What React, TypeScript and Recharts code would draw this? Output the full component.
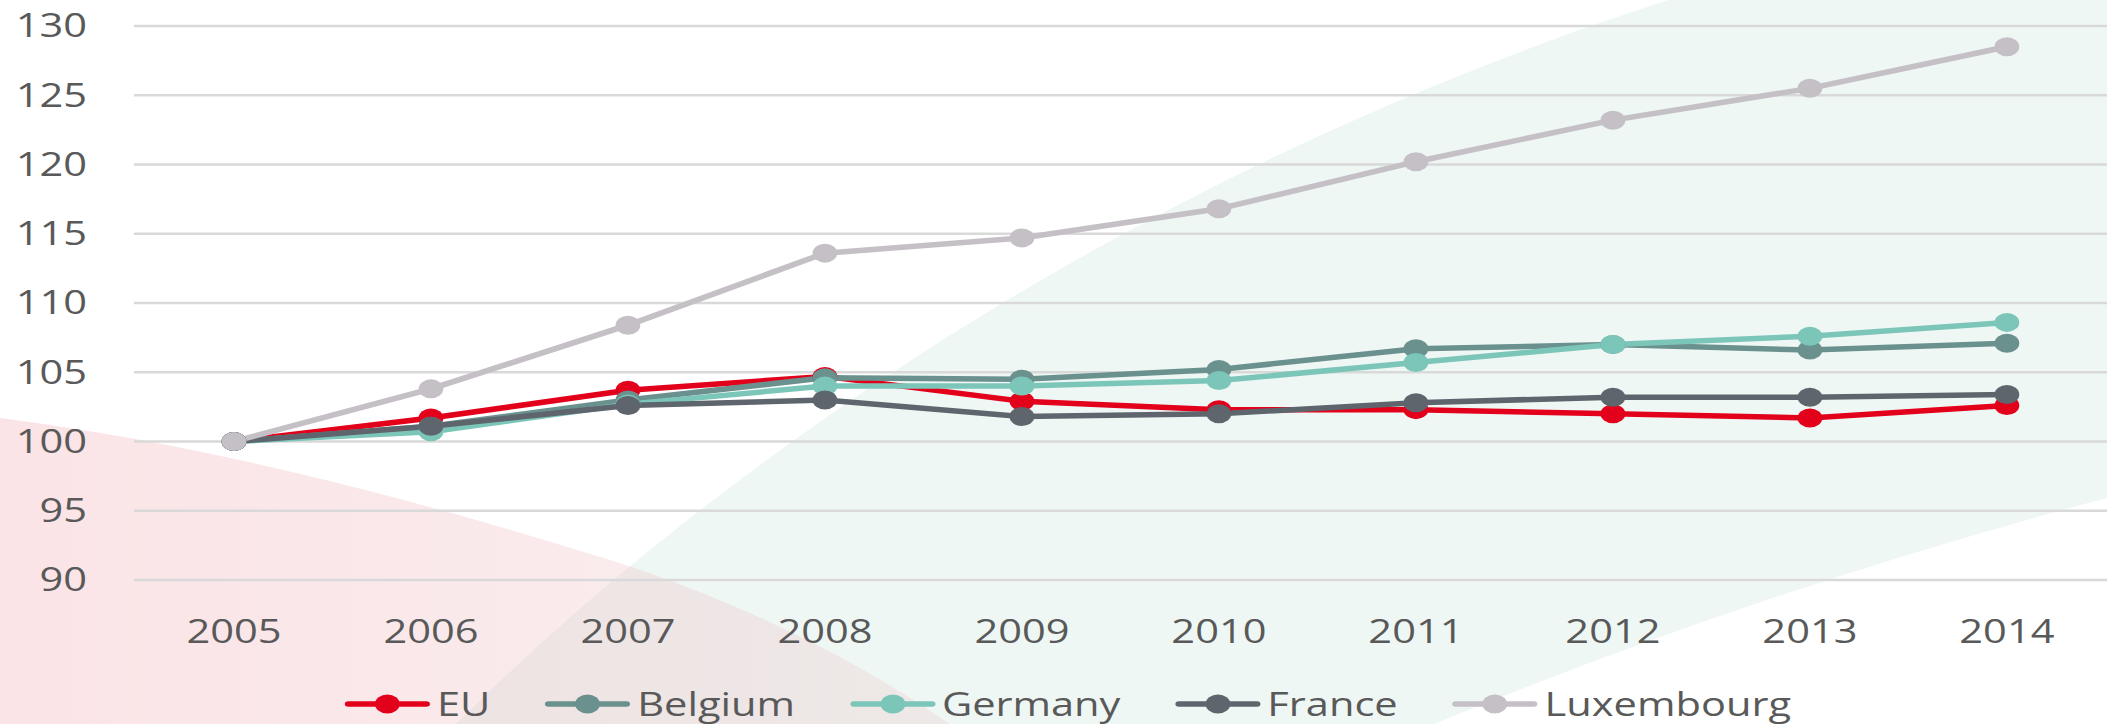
import React from "react";
import { CartesianGrid, Legend, Line, LineChart, XAxis, YAxis } from "recharts";

// index 2005 = 100
const years = ["2005", "2006", "2007", "2008", "2009", "2010", "2011", "2012", "2013", "2014"];
const euValues = [100, 101.7, 103.7, 104.7, 102.9, 102.3, 102.3, 102.0, 101.7, 102.6];
const belgiumValues = [100, 101.1, 103.0, 104.6, 104.5, 105.2, 106.7, 107.0, 106.6, 107.1];
const germanyValues = [100, 100.7, 102.7, 104.0, 104.0, 104.4, 105.7, 107.0, 107.6, 108.6];
const franceValues = [100, 101.1, 102.6, 103.0, 101.8, 102.0, 102.8, 103.2, 103.2, 103.4];
const luxembourgValues = [100, 103.8, 108.4, 113.6, 114.7, 116.8, 120.2, 123.2, 125.5, 128.5];
const yTicks = [90, 95, 100, 105, 110, 115, 120, 125, 130];

const SERIES = [
  { key: "EU", color: "#e3001b" },
  { key: "Belgium", color: "#6a918d" },
  { key: "Germany", color: "#7cc6b9" },
  { key: "France", color: "#5e656d" },
  { key: "Luxembourg", color: "#c5c0c6" },
];

const FULL_W = 2107;
const FULL_H = 724;
// the original picture is stretched sideways, so draw narrower and scale back up
const STRETCH = 1.3;
const INNER_W = Math.round(FULL_W / STRETCH);
const TEXT = "#595959";
const FONT = "'Open Sans', sans-serif";

const data = years.map((year, i) => ({
  year,
  EU: euValues[i],
  Belgium: belgiumValues[i],
  Germany: germanyValues[i],
  France: franceValues[i],
  Luxembourg: luxembourgValues[i],
}));

function LegendContent() {
  return (
    <div
      style={{
        display: "flex",
        justifyContent: "center",
        alignItems: "center",
        paddingTop: 20,
        paddingLeft: 22,
        height: 40,
        fontFamily: FONT,
        fontSize: 32,
        color: TEXT,
        lineHeight: "40px",
      }}
    >
      {SERIES.map((s, i) => (
        <div
          key={s.key}
          style={{
            display: "flex",
            alignItems: "center",
            marginRight: i < SERIES.length - 1 ? 42 : 0,
          }}
        >
          <svg width={66} height={24} style={{ display: "block" }}>
            <line x1={3} y1={12} x2={63} y2={12} stroke={s.color} strokeWidth={5.5} strokeLinecap="round" />
            <circle cx={33} cy={12} r={9.5} fill={s.color} />
          </svg>
          <span style={{ marginLeft: 5 }}>{s.key}</span>
        </div>
      ))}
    </div>
  );
}

function Backdrop() {
  return (
    <svg
      width={FULL_W}
      height={FULL_H}
      style={{ position: "absolute", left: 0, top: 0 }}
    >
      <defs>
        <linearGradient id="pinkFade" x1="0" y1="0" x2="1" y2="0">
          <stop offset="0%" stopColor="#f3b3ba" stopOpacity={0.36} />
          <stop offset="100%" stopColor="#e9b5b8" stopOpacity={0.22} />
        </linearGradient>
      </defs>
      <path
        d="M456,724 C640,540 1050,200 1668,0 L2107,0 L2107,498 Q1760,590 1434,724 Z"
        fill="#eff7f5"
      />
      <path
        d="M0,418 C250,450 480,520 610,560 C730,598 850,655 950,724 L0,724 Z"
        fill="url(#pinkFade)"
      />
    </svg>
  );
}

export default function App() {
  return (
    <div
      style={{
        position: "absolute",
        left: 0,
        top: 0,
        width: FULL_W,
        height: FULL_H,
        overflow: "hidden",
        background: "#ffffff",
      }}
    >
      <Backdrop />
      <div
        style={{
          position: "absolute",
          left: 0,
          top: 0,
          width: INNER_W,
          height: FULL_H,
          transform: `scaleX(${FULL_W / INNER_W})`,
          transformOrigin: "0 0",
        }}
      >
        <LineChart
          width={INNER_W}
          height={FULL_H}
          data={data}
          margin={{ top: 26, right: 0, bottom: 0, left: 0 }}
          style={{ fontFamily: FONT }}
        >
          <CartesianGrid vertical={false} stroke="#d9d9d9" strokeWidth={2.5} />
          <XAxis
            dataKey="year"
            height={84}
            axisLine={false}
            tickLine={false}
            tickSize={0}
            tickMargin={40}
            padding={{ left: 77, right: 77 }}
            tick={{ fill: TEXT, fontSize: 32 }}
          />
          <YAxis
            domain={[90, 130]}
            ticks={yTicks}
            width={103}
            axisLine={false}
            tickLine={false}
            tickSize={0}
            tickMargin={36}
            tick={{ fill: TEXT, fontSize: 32 }}
          />
          <Legend verticalAlign="bottom" content={<LegendContent />} />
          {SERIES.map((s) => (
            <Line
              key={s.key}
              type="linear"
              dataKey={s.key}
              stroke={s.color}
              strokeWidth={5.5}
              dot={{ r: 9.5, fill: s.color, stroke: s.color, strokeWidth: 0 }}
              activeDot={false}
              isAnimationActive={false}
            />
          ))}
        </LineChart>
      </div>
    </div>
  );
}
